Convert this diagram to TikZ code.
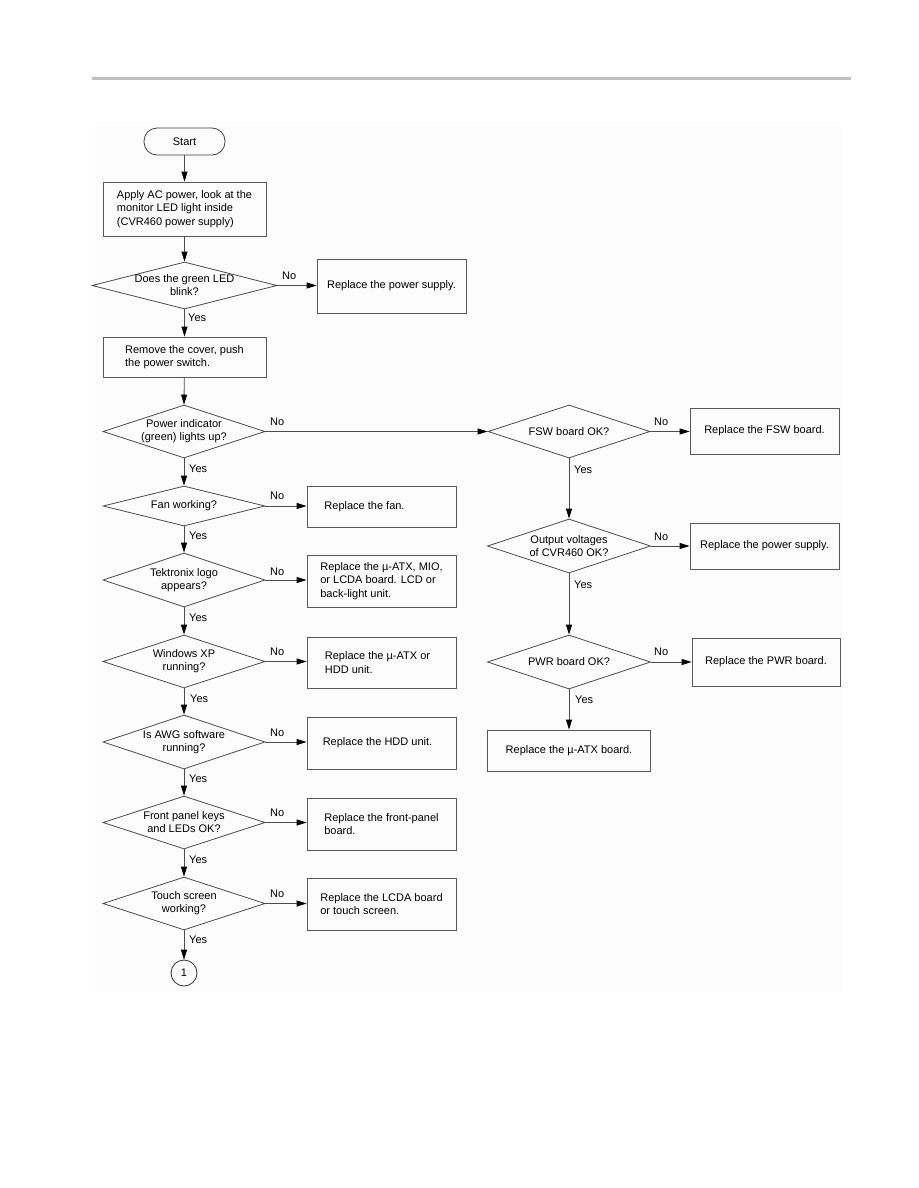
\documentclass[tikz,border=0pt]{standalone}
\usepackage{fontspec}
\setmainfont{Liberation Sans}
\usetikzlibrary{shapes.geometric,arrows.meta}
\begin{document}
\begin{tikzpicture}[x=1pt,y=-1pt,
  every node/.style={font=\fontsize{11}{13.5}\selectfont},
  proc/.style={draw=black!65, line width=0.8pt, align=left, inner sep=0pt},
  dec/.style={draw=black!70, line width=0.8pt, shape=diamond, inner sep=0pt},
  dtext/.style={align=center, inner sep=0pt, font=\fontsize{11}{13}\selectfont},
  term/.style={draw=black!75, line width=0.8pt, rounded corners=13pt, inner sep=0pt},
  conn/.style={draw=black!70, line width=0.8pt, -{Triangle[length=10pt,width=6pt,black]}},
  lab/.style={inner sep=0pt, anchor=west},
]
\useasboundingbox (0,0) rectangle (918,1188);
\fill[white] (0,0) rectangle (918,1188);
% header rule and background panel
\draw[black!25, line width=3pt] (92,79) -- (851,79);
\fill[black!1] (95,127) rectangle (843,992);

% left column
\node[term, minimum width=81pt, minimum height=27pt] (start) at (184.5,141.5) {Start};
\node[proc, minimum width=163pt, minimum height=54pt] (apply) at (184.5,209) {Apply AC power, look at the\\monitor LED light inside\\(CVR460 power supply)};
\node[dec, minimum width=185pt, minimum height=47pt] (d1) at (184.5,285.5) {};
\node[dtext] at (d1.center) {Does the green LED\\blink?};
\node[proc, minimum width=149pt, minimum height=54pt] (r1) at (391.5,286) {Replace the power supply.};
\node[proc, minimum width=163pt, minimum height=40pt] (remove) at (184.5,357) {Remove the cover, push\\the power switch.};

\node[dec, minimum width=162pt, minimum height=53pt] (d2) at (184,431.5) {};
\node[dtext] at (d2.center) {Power indicator\\(green) lights up?};

\node[dec, minimum width=162pt, minimum height=40pt] (d3) at (184,506) {};
\node[dtext] at (d3.center) {Fan working?};
\node[proc, minimum width=149pt, minimum height=41pt] (r3) at (381.5,506.5) {Replace the fan.\hspace*{34pt}};

\node[dec, minimum width=162pt, minimum height=54pt] (d4) at (184,580) {};
\node[dtext] at (d4.center) {Tektronix logo\\appears?};
\node[proc, minimum width=149pt, minimum height=52pt] (r4) at (381.5,581) {Replace the µ-ATX, MIO,\\or LCDA board. LCD or\\back-light unit.};

\node[dec, minimum width=162pt, minimum height=53pt] (d5) at (184,661.5) {};
\node[dtext] at (d5.center) {Windows XP\\running?};
\node[proc, minimum width=149pt, minimum height=51pt] (r5) at (381.5,662.5) {Replace the µ-ATX or\hspace*{8pt}\\HDD unit.};

\node[dec, minimum width=162pt, minimum height=54pt] (d6) at (184,742) {};
\node[dtext] at (d6.center) {Is AWG software\\running?};
\node[proc, minimum width=149pt, minimum height=52pt] (r6) at (381.5,743) {Replace the HDD unit.\hspace*{8pt}};

\node[dec, minimum width=162pt, minimum height=53pt] (d7) at (184,822.5) {};
\node[dtext] at (d7.center) {Front panel keys\\and LEDs OK?};
\node[proc, minimum width=149pt, minimum height=52pt] (r7) at (381.5,824) {Replace the front-panel\\board.};

\node[dec, minimum width=162pt, minimum height=53pt] (d8) at (184,903.5) {};
\node[dtext] at (d8.center) {Touch screen\\working?};
\node[proc, minimum width=149pt, minimum height=52pt] (r8) at (381.5,904) {Replace the LCDA board\\or touch screen.};

\node[draw=black!80, line width=0.8pt, circle, minimum size=26pt, inner sep=0pt] (c1) at (184,973) {1};

% right column
\node[dec, minimum width=162pt, minimum height=53pt] (f1) at (569,431.5) {};
\node[dtext] at (f1.center) {FSW board OK?};
\node[proc, minimum width=149pt, minimum height=46pt] (rf1) at (764.5,431) {Replace the FSW board.};

\node[dec, minimum width=163pt, minimum height=54pt] (f2) at (569,546) {};
\node[dtext] at (f2.center) {Output voltages\\of CVR460 OK?};
\node[proc, minimum width=149pt, minimum height=46pt] (rf2) at (764.5,546) {Replace the power supply.};

\node[dec, minimum width=163pt, minimum height=54pt] (f3) at (569,662) {};
\node[dtext] at (f3.center) {PWR board OK?};
\node[proc, minimum width=148pt, minimum height=48pt] (rf3) at (766,662) {Replace the PWR board.};

\node[proc, minimum width=163pt, minimum height=41pt] (rf4) at (569,750.5) {Replace the µ-ATX board.};

% connectors
\draw[conn] (start) -- (apply);
\draw[conn] (apply) -- (d1.north);
\draw[conn] (d1.south) -- (remove);
\draw[conn] (remove) -- (d2.north);
\draw[conn] (d2.south) -- (d3.north);
\draw[conn] (d3.south) -- (d4.north);
\draw[conn] (d4.south) -- (d5.north);
\draw[conn] (d5.south) -- (d6.north);
\draw[conn] (d6.south) -- (d7.north);
\draw[conn] (d7.south) -- (d8.north);
\draw[conn] (d8.south) -- (c1);

\draw[conn] (d1.east) -- (r1.west|-d1.east);
\draw[conn] (d2.east) -- (f1.west);
\draw[conn] (d3.east) -- (r3.west|-d3.east);
\draw[conn] (d4.east) -- (r4.west|-d4.east);
\draw[conn] (d5.east) -- (r5.west|-d5.east);
\draw[conn] (d6.east) -- (r6.west|-d6.east);
\draw[conn] (d7.east) -- (r7.west|-d7.east);
\draw[conn] (d8.east) -- (r8.west|-d8.east);

\draw[conn] (f1.south) -- (f2.north);
\draw[conn] (f2.south) -- (f3.north);
\draw[conn] (f3.south) -- (rf4);
\draw[conn] (f1.east) -- (rf1.west|-f1.east);
\draw[conn] (f2.east) -- (rf2.west|-f2.east);
\draw[conn] (f3.east) -- (rf3.west|-f3.east);

% labels
\node[lab] (y1) at (188,318) {Yes};
\node[lab] (n1) at (282,276) {No};
\node[lab] (n2) at (270,422) {No};
\node[lab] (y2) at (189,469) {Yes};
\node[lab] (n3) at (270,496) {No};
\node[lab] (y3) at (189,536) {Yes};
\node[lab] (n4) at (270,572) {No};
\node[lab] (y4) at (189,618) {Yes};
\node[lab] (n5) at (270,652) {No};
\node[lab] (y5) at (190,699) {Yes};
\node[lab] (n6) at (270,733) {No};
\node[lab] (y6) at (189,779) {Yes};
\node[lab] (n7) at (270,813) {No};
\node[lab] (y7) at (189,860) {Yes};
\node[lab] (n8) at (270,894) {No};
\node[lab] (y8) at (189,940) {Yes};

\node[lab] (fy1) at (574,470) {Yes};
\node[lab] (fn1) at (654,422) {No};
\node[lab] (fy2) at (574,585) {Yes};
\node[lab] (fn2) at (654,537) {No};
\node[lab] (fy3) at (575,700) {Yes};
\node[lab] (fn3) at (654,652) {No};
\end{tikzpicture}
\end{document}
